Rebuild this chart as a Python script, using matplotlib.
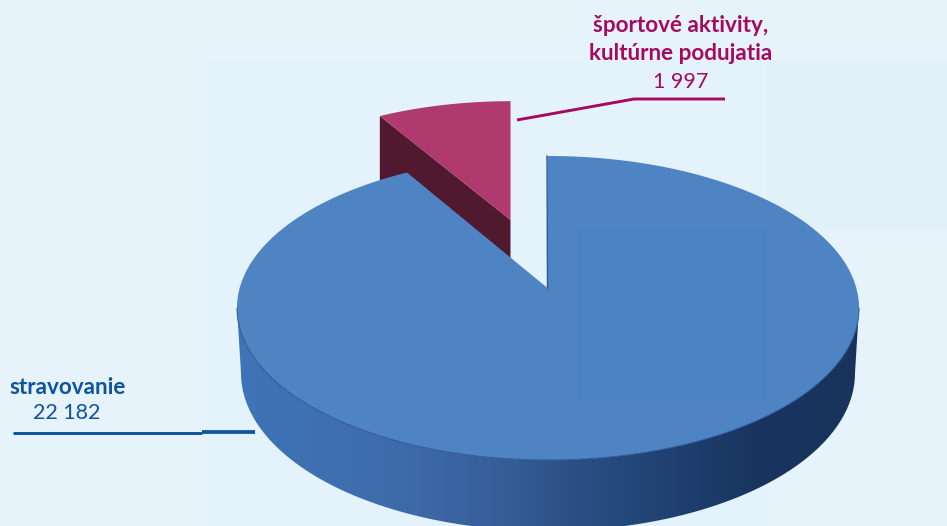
import numpy as np
import matplotlib
matplotlib.use('Agg')
import matplotlib.pyplot as plt
from matplotlib.colors import LinearSegmentedColormap
from matplotlib.patches import Polygon, Rectangle

categories = ['stravovanie', 'športové aktivity,\nkultúrne podujatia']
value_labels = ['22 182', '1 997']
values = [22182, 1997]

BG = '#E6F3FB'
BLUE_TOP = '#4E84C4'
BLUE_TEXT = '#0C53A3'
PINK_TEXT = '#A50A62'
PINK_TOP = '#B0396E'
PINK_WALL = '#50192F'

plt.rcParams['font.family'] = ['Lato', 'DejaVu Sans']

fig = plt.figure(figsize=(9.47, 5.26), dpi=100, facecolor=BG)
ax = fig.add_axes([0, 0, 1, 1])
ax.set_axis_off()

# pie geometry in pixels of the picture
cx, cy, rx, ry = 548, 308, 311, 152
low_cy, low_rx, low_ry = 373, 307, 158
apex_x, apex_y = 547.5, 288


def rim(theta_deg):
    # where the ray from the apex meets the top ellipse
    t = np.radians(theta_deg)
    dx = np.sin(t) * rx
    dy = -np.cos(t) * 146
    ox, oy = apex_x - cx, apex_y - cy
    a = (dx / rx) ** 2 + (dy / ry) ** 2
    b = 2 * (ox * dx / rx ** 2 + oy * dy / ry ** 2)
    c = (ox / rx) ** 2 + (oy / ry) ** 2 - 1
    s = (-b + np.sqrt(b * b - 4 * a * c)) / (2 * a)
    return apex_x + s * dx, apex_y + s * dy


main_deg = values[0] / sum(values) * 360

# faint panels behind the chart
ax.add_patch(Rectangle((205, 60), 562, 466, fc='#E4F2FB', ec='none', zorder=0))
ax.add_patch(Rectangle((767, 60), 180, 170, fc='#E0F1FA', ec='none', zorder=0))

# exploded slice
th = np.linspace(main_deg, 360, 40)
sx, sy = rim(th)
ex_x, ex_y = 510.5, 220
top_x = ex_x + 0.93 * (sx - apex_x)
top_y = ex_y + 0.9 * (sy - apex_y)
wall = [(top_x[0], top_y[0]), (ex_x, ex_y), (ex_x, ex_y + 70), (top_x[0], top_y[0] + 70)]
ax.add_patch(Polygon(wall, closed=True, fc=PINK_WALL, ec='none', zorder=2))
ax.add_patch(Polygon(np.column_stack([np.r_[ex_x, top_x], np.r_[ex_y, top_y]]), closed=True,
                     fc=PINK_TOP, ec='none', zorder=3))

# side of the big slice, shaded left to right
t = np.linspace(np.pi, 0, 200)
upper = np.column_stack([cx + rx * np.cos(t), cy + ry * np.sin(t)])
lower = np.column_stack([cx + low_rx * np.cos(t), low_cy + low_ry * np.sin(t)])
side = Polygon(np.vstack([upper, lower[::-1]]), closed=True, fc='none', ec='none',
               transform=ax.transData)
ax.add_patch(side)
side_cmap = LinearSegmentedColormap.from_list('side', [
    (0.0, '#3F74B8'), (0.25, '#3E6CAB'), (0.42, '#365F99'),
    (0.55, '#2A4F84'), (0.72, '#1E3F6E'), (0.85, '#18345E'), (1.0, '#18335C')])
im = ax.imshow(np.linspace(0, 1, 256).reshape(1, -1), cmap=side_cmap, aspect='auto',
               extent=(237, 859, 540, 300), zorder=4)
im.set_clip_path(side)

# top of the big slice
th = np.linspace(0, main_deg, 300)
mx, my = rim(th)
face = Polygon(np.column_stack([np.r_[apex_x, mx], np.r_[apex_y, my]]), closed=True,
               fc=BLUE_TOP, ec='none', zorder=5)
ax.add_patch(face)
panel = Rectangle((578, 230), 189, 170, fc='#4B82C3', ec='none', zorder=5.2)
ax.add_patch(panel)
panel.set_clip_path(face)
ax.plot(upper[:, 0], upper[:, 1], color='#2E5A96', lw=0.7, zorder=5.5)
ax.plot([mx[0] - 0.5, apex_x], [my[0], apex_y], color='#2E5A96', lw=1.0, zorder=5.5)

# leader lines
ax.plot([517, 634, 725], [120, 99, 99], color=PINK_TEXT, lw=2.1, solid_joinstyle='miter',
        solid_capstyle='butt', zorder=6)
ax.plot([13, 202], [432.5, 432.5], color=BLUE_TEXT, lw=2.1, solid_capstyle='butt', zorder=6)
ax.plot([202, 255], [432, 432], color=BLUE_TEXT, lw=2.7, solid_capstyle='butt', zorder=6)

# labels
name0 = categories[1].split('\n')
ax.text(681, 25, name0[0], color=PINK_TEXT, fontsize=16.2, fontweight='bold', ha='center', va='center', zorder=7)
ax.text(681, 54, name0[1], color=PINK_TEXT, fontsize=16.2, fontweight='bold', ha='center', va='center', zorder=7)
ax.text(681, 82, value_labels[1], color=PINK_TEXT, fontsize=15.5, ha='center', va='center', zorder=7)
ax.text(9, 387, categories[0], color=BLUE_TEXT, fontsize=16.2, fontweight='bold', ha='left', va='center', zorder=7)
ax.text(67, 413, value_labels[0], color=BLUE_TEXT, fontsize=15.5, ha='center', va='center', zorder=7)

ax.set_xlim(0, 947)
ax.set_ylim(526, 0)

fig.savefig('out.png', dpi=100, facecolor=BG)
